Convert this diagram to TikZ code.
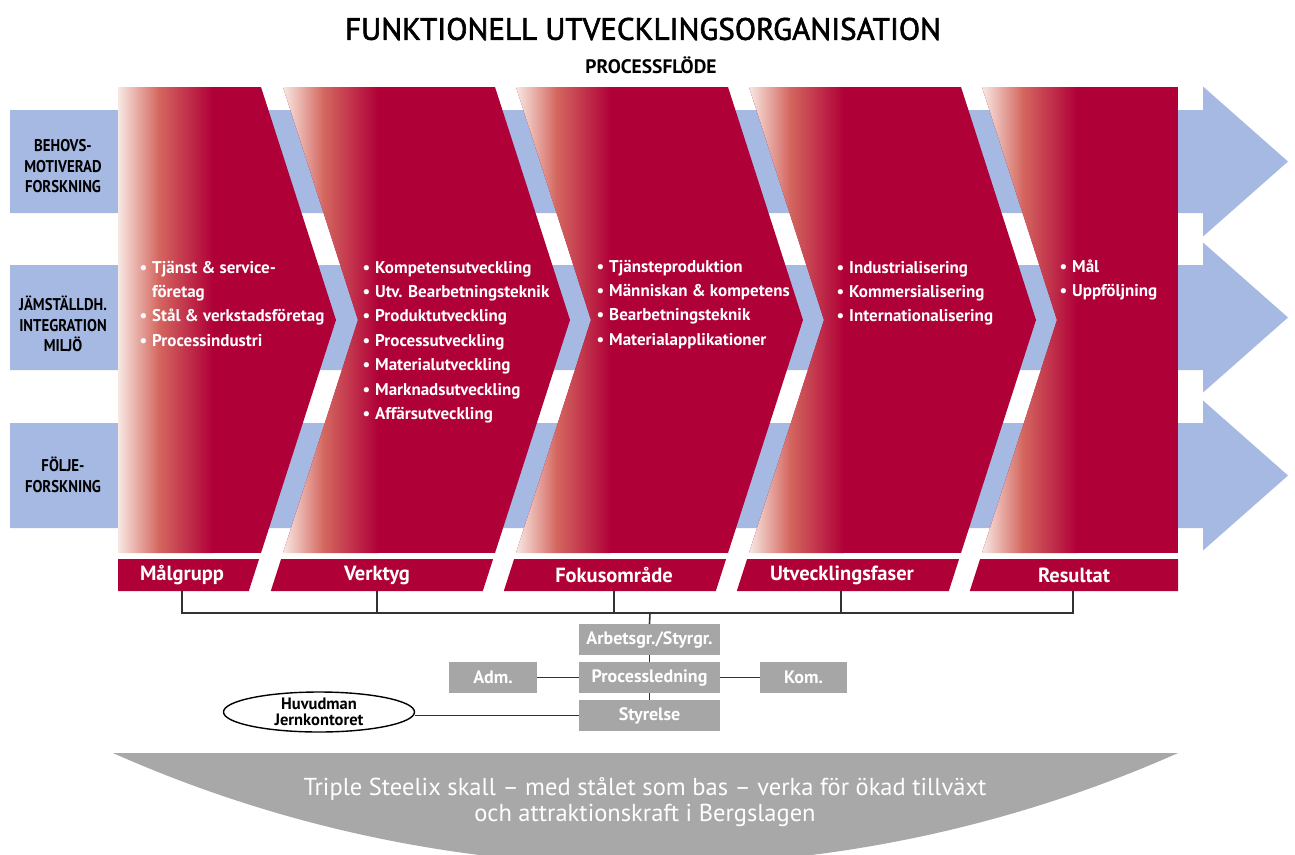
\documentclass[tikz,border=0pt]{standalone}
\usepackage{fontspec}
\usepackage{graphicx}
\setmainfont{PT Sans}
\usetikzlibrary{shapes.geometric}
\definecolor{crim}{RGB}{176,0,56}
\definecolor{pale}{RGB}{248,232,226}
\definecolor{salm}{RGB}{212,104,96}
\definecolor{bandblue}{RGB}{166,185,226}
\definecolor{boxgray}{RGB}{166,166,166}
\definecolor{arcgray}{RGB}{168,168,168}
\definecolor{linegray}{RGB}{50,50,50}
\newcommand{\bul}{\llap{\textbullet\hspace{5pt}}}
\newcommand{\sidetxt}[1]{\scalebox{0.87}[1]{\begin{tabular}{@{}c@{}}#1\end{tabular}}}
\begin{document}
\begin{tikzpicture}[x=1pt,y=-1pt,
  item/.style={anchor=base west, text=white, font=\bfseries\fontsize{17}{20}\selectfont, inner sep=0pt},
  barlabel/.style={text=white, font=\bfseries\fontsize{20.5}{22}\selectfont, inner sep=0pt},
  orgbox/.style={fill=boxgray, text=white, font=\bfseries\fontsize{18}{18}\selectfont, minimum height=31pt, inner sep=0pt},
  sidelabel/.style={font=\bfseries\fontsize{17}{20.5}\selectfont, inner sep=0pt},
  conn/.style={draw=linegray, line width=1.6pt}]
\useasboundingbox (0,0) rectangle (1295,854);
% blue bands with arrowheads
\foreach \t/\b/\c in {110/213/161.5, 265/370/317.5, 423/528/475.5}
  \fill[bandblue] (10,\t) -- (1203,\t) -- (1203,\c-75) -- (1288,\c) -- (1203,\c+75) -- (1203,\b) -- (10,\b) -- cycle;
% chevron 1
\begin{scope}
  \clip (118,87) -- (261,87) -- (336,320) -- (261,553) -- (118,553) -- cycle;
  \fill[crim] (118,87) rectangle (340,553);
  \shade[left color=pale, right color=salm] (118,87) rectangle (158.5,553);
  \shade[left color=salm, right color=crim] (158,87) rectangle (213,553);
\end{scope}
% chevrons 2-4
\foreach \L in {283,516,749} {
  \begin{scope}
    \clip (\L,87) -- (\L+212,87) -- (\L+287,320) -- (\L+212,553) -- (\L,553) -- (\L+75,320) -- cycle;
    \fill[crim] (\L,87) rectangle (\L+290,553);
    \shade[left color=pale, right color=salm] (\L,87) rectangle (\L+40.5,553);
    \shade[left color=salm, right color=crim] (\L+40,87) rectangle (\L+95,553);
  \end{scope}
}
% chevron 5
\begin{scope}
  \clip (982,87) -- (1178,87) -- (1178,553) -- (982,553) -- (1057,320) -- cycle;
  \fill[crim] (982,87) rectangle (1178,553);
  \shade[left color=pale, right color=salm] (982,87) rectangle (1022.5,553);
  \shade[left color=salm, right color=crim] (1022,87) rectangle (1077,553);
\end{scope}
% bars
\fill[crim] (118,559) -- (259.1,559) -- (248.8,591) -- (118,591) -- cycle;
\foreach \L in {283,516,749}
  \fill[crim] (\L-1.9,559) -- (\L+210.1,559) -- (\L+199.8,591) -- (\L-12.2,591) -- cycle;
\fill[crim] (980.1,559) -- (1178,559) -- (1178,591) -- (969.8,591) -- cycle;
% bar labels
\node[barlabel] (lab1) at (182,575) {Målgrupp};
\node[barlabel] (lab2) at (377,575) {Verktyg};
\node[barlabel] (lab3) at (614,575) {Fokusområde};
\node[barlabel] (lab4) at (842,575) {Utvecklingsfaser};
\node[barlabel] (lab5) at (1074,575) {Resultat};
% side labels
\node[sidelabel] (s1) at (63,168) {\sidetxt{BEHOVS-\\MOTIVERAD\\FORSKNING}};
\node[sidelabel] (s2) at (63,327) {\sidetxt{JÄMSTÄLLDH.\\INTEGRATION\\MILJÖ}};
\node[sidelabel] (s3) at (63,478) {\sidetxt{FÖLJE-\\FORSKNING}};
% bullet lists
\foreach \t [count=\i] in {{\bul Tjänst \& service-},{företag},{\bul Stål \& verkstadsföretag},{\bul Processindustri}}
  \node[item] (a\i) at (152,273+24.4*\i-24.4) {\t};
\foreach \t [count=\i] in {Kompetensutveckling,Utv. Bearbetningsteknik,Produktutveckling,Processutveckling,Materialutveckling,Marknadsutveckling,Affärsutveckling}
  \node[item] (b\i) at (375,273+24.4*\i-24.4) {\bul\t};
\foreach \t [count=\i] in {Tjänsteproduktion,{Människan \& kompetens},Bearbetningsteknik,Materialapplikationer}
  \node[item] (c\i) at (609,272+24.4*\i-24.4) {\bul\t};
\foreach \t [count=\i] in {Industrialisering,Kommersialisering,Internationalisering}
  \node[item] (d\i) at (849,273+24.4*\i-24.4) {\bul\t};
\foreach \t [count=\i] in {Mål,Uppföljning}
  \node[item] (e\i) at (1072,272+24.4*\i-24.4) {\bul\t};
% title
\node[font=\fontsize{31}{31}\selectfont\addfontfeatures{FakeBold=2}, inner sep=0pt] (title) at (643,29) {FUNKTIONELL UTVECKLINGSORGANISATION};
\node[font=\bfseries\fontsize{19.5}{19.5}\selectfont, inner sep=0pt] (sub) at (651,65) {PROCESSFLÖDE};
% connector bus
\foreach \x [count=\i] in {182,377,614,841,1073} {
  \coordinate (d\i) at (\x,591);
  \coordinate (h\i) at (\x,613);
  \draw[conn] (d\i) -- (h\i);
}
\draw[conn] ([xshift=-0.8pt]h1) -- ([xshift=0.8pt]h5);
\coordinate (hc) at (650,613);
% org boxes
\node[orgbox, minimum width=141pt] (arb) at (649.5,639.5) {Arbetsgr./Styrgr.};
\node[orgbox, minimum width=141pt] (proc) at (649.5,677.5) {Processledning};
\node[orgbox, minimum width=141pt] (sty) at (649.5,715.5) {Styrelse};
\node[orgbox, minimum width=88pt] (adm) at (493,677.5) {Adm.};
\node[orgbox, minimum width=87pt] (kom) at (803.5,677.5) {Kom.};
\node[ellipse, draw=black, line width=1.4pt, minimum width=191pt, minimum height=40pt, inner sep=0pt, align=center, font=\bfseries\fontsize{16.5}{15.5}\selectfont] (huv) at (319,712) {Huvudman\\Jernkontoret};
\draw[conn] (hc) -- (arb.north);
\draw[conn] (arb.south) -- (proc.north);
\draw[conn] (proc.south) -- (sty.north);
\draw[conn] (adm.east) -- (proc.west);
\draw[conn] (proc.east) -- (kom.west);
\draw[conn] (sty.west) -- (huv.east |- sty.west);
% bottom arc
\begin{scope}
  \clip (0,753) rectangle (1295,854);
  \fill[arcgray] (645.5,-448.6) circle[radius=1314pt];
\end{scope}
\node[text=white, align=center, font=\fontsize{24.5}{26.5}\selectfont, inner sep=0pt] (goal) at (645,802) {Triple Steelix skall – med stålet som bas – verka för ökad tillväxt\\och attraktionskraft i Bergslagen};
\end{tikzpicture}
\end{document}
